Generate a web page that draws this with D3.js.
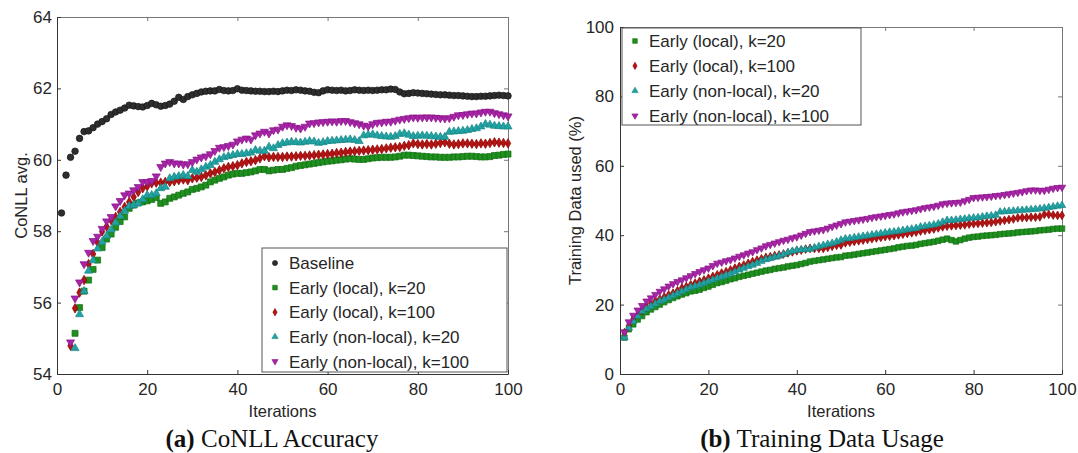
<!DOCTYPE html>
<html>
<head>
<meta charset="utf-8">
<script src="https://d3js.org/d3.v7.min.js"></script>
<style>
  body { margin: 0; background: #fff; }
  svg text { font-family: "Liberation Sans", Arial, sans-serif; fill: #262626; }
  svg .caption { font-family: "Liberation Serif", "Times New Roman", serif; fill: #111; }
</style>
</head>
<body>
<svg id="chart" width="1078" height="453"></svg>
<script>
// ---- data ----
const xTicks = [0, 20, 40, 60, 80, 100];
const accTicks = [54, 56, 58, 60, 62, 64];
const usageTicks = [0, 20, 40, 60, 80, 100];

const accNames = ["Baseline", "Early (local), k=20", "Early (local), k=100",
  "Early (non-local), k=20", "Early (non-local), k=100"];
const usageNames = ["Early (local), k=20", "Early (local), k=100",
  "Early (non-local), k=20", "Early (non-local), k=100"];

// CoNLL avg. per iteration (first value = first iteration plotted)
const accBaselineStart = 1;
const accBaseline = [
  58.51, 59.57, 60.07, 60.24, 60.60, 60.79, 60.81, 60.90, 61.00, 61.07,
  61.15, 61.27, 61.34, 61.39, 61.45, 61.53, 61.51, 61.49, 61.48, 61.52,
  61.58, 61.54, 61.50, 61.52, 61.56, 61.64, 61.75, 61.69, 61.77, 61.82,
  61.86, 61.90, 61.92, 61.93, 61.93, 61.97, 61.94, 61.93, 61.94, 61.99,
  61.95, 61.94, 61.93, 61.92, 61.92, 61.91, 61.91, 61.92, 61.91, 61.93,
  61.95, 61.94, 61.96, 61.95, 61.93, 61.92, 61.89, 61.88, 61.93, 61.96,
  61.95, 61.94, 61.95, 61.93, 61.94, 61.96, 61.95, 61.94, 61.95, 61.94,
  61.95, 61.96, 61.96, 61.98, 61.97, 61.90, 61.85, 61.86, 61.88, 61.87,
  61.86, 61.85, 61.84, 61.83, 61.82, 61.82, 61.81, 61.80, 61.80, 61.79,
  61.78, 61.77, 61.77, 61.78, 61.78, 61.79, 61.80, 61.81, 61.80, 61.79
];
const accLocal20Start = 4;
const accLocal20 = [
  55.14, 55.86, 56.32, 56.63, 56.93, 57.19, 57.54,
  57.78, 57.92, 58.11, 58.27, 58.40, 58.64, 58.73, 58.79, 58.82, 58.85,
  58.89, 58.94, 58.78, 58.82, 58.92, 58.96, 59.01, 59.06, 59.10, 59.17,
  59.20, 59.24, 59.29, 59.38, 59.43, 59.48, 59.52, 59.57, 59.60, 59.62,
  59.62, 59.64, 59.66, 59.69, 59.73, 59.73, 59.69, 59.71, 59.73, 59.73,
  59.76, 59.78, 59.82, 59.84, 59.86, 59.88, 59.90, 59.92, 59.94, 59.96,
  59.97, 59.99, 60.00, 60.02, 60.03, 60.02, 60.01, 60.01, 60.03, 60.05,
  60.06, 60.07, 60.07, 60.07, 60.08, 60.10, 60.13, 60.13, 60.12, 60.11,
  60.10, 60.09, 60.08, 60.08, 60.07, 60.07, 60.07, 60.08, 60.08, 60.09,
  60.10, 60.10, 60.09, 60.08, 60.08, 60.09, 60.12, 60.13, 60.15, 60.16
];
const accLocal100Start = 3;
const accLocal100 = [
  54.79, 55.84, 56.28, 56.63, 57.08, 57.36, 57.68, 57.99,
  58.13, 58.31, 58.40, 58.54, 58.68, 58.82, 58.96, 59.10, 59.20, 59.26,
  59.34, 59.36, 59.36, 59.38, 59.38, 59.40, 59.43, 59.45, 59.43, 59.48,
  59.50, 59.52, 59.57, 59.62, 59.66, 59.71, 59.76, 59.80, 59.82, 59.85,
  59.90, 59.94, 59.96, 59.99, 60.04, 60.10, 60.07, 60.08, 60.08, 60.08,
  60.09, 60.09, 60.10, 60.11, 60.11, 60.12, 60.13, 60.14, 60.15, 60.16,
  60.17, 60.19, 60.20, 60.22, 60.23, 60.24, 60.25, 60.26, 60.27, 60.28,
  60.29, 60.30, 60.32, 60.34, 60.35, 60.36, 60.39, 60.41, 60.46, 60.44,
  60.43, 60.44, 60.43, 60.45, 60.47, 60.49, 60.45, 60.43, 60.44, 60.46,
  60.46, 60.45, 60.44, 60.46, 60.45, 60.47, 60.49, 60.48, 60.47, 60.46
];
const accNonLocal20Start = 4;
const accNonLocal20 = [
  54.72, 55.67, 56.32, 56.89, 57.18, 57.51, 57.70,
  57.87, 58.04, 58.24, 58.42, 58.57, 58.70, 58.73, 58.78, 58.89, 59.01,
  59.01, 59.06, 59.20, 59.24, 59.48, 59.52, 59.54, 59.57, 59.54, 59.71,
  59.66, 59.73, 59.80, 59.85, 59.94, 60.01, 60.07, 60.10, 60.13, 60.16,
  60.16, 60.18, 60.20, 60.27, 60.25, 60.25, 60.36, 60.32, 60.41, 60.46,
  60.48, 60.50, 60.49, 60.48, 60.50, 60.52, 60.51, 60.47, 60.49, 60.52,
  60.53, 60.54, 60.55, 60.56, 60.57, 60.55, 60.52, 60.68, 60.70, 60.71,
  60.68, 60.66, 60.65, 60.64, 60.66, 60.72, 60.74, 60.70, 60.66, 60.67,
  60.68, 60.67, 60.66, 60.65, 60.64, 60.64, 60.78, 60.79, 60.80, 60.81,
  60.83, 60.86, 60.88, 60.93, 61.00, 60.98, 60.95, 60.94, 60.93, 60.93
];
const accNonLocal100Start = 3;
const accNonLocal100 = [
  54.89, 56.12, 56.57, 57.08, 57.40, 57.73, 57.85, 58.07,
  58.28, 58.40, 58.70, 58.85, 59.01, 59.06, 59.15, 59.24, 59.38, 59.38,
  59.41, 59.54, 59.80, 59.90, 59.94, 59.90, 59.90, 59.87, 59.88, 59.94,
  60.01, 60.07, 60.10, 60.16, 60.25, 60.34, 60.36, 60.39, 60.43, 60.52,
  60.57, 60.60, 60.57, 60.69, 60.74, 60.79, 60.74, 60.83, 60.85, 60.93,
  60.97, 60.95, 60.90, 60.88, 60.93, 61.02, 61.03, 61.05, 61.06, 61.07,
  61.08, 61.07, 61.09, 61.09, 61.06, 61.03, 61.00, 60.96, 60.94, 61.00,
  61.04, 61.05, 61.07, 61.07, 61.10, 61.13, 61.15, 61.17, 61.19, 61.18,
  61.19, 61.19, 61.19, 61.18, 61.17, 61.16, 61.17, 61.21, 61.25, 61.26,
  61.28, 61.30, 61.30, 61.33, 61.35, 61.35, 61.31, 61.28, 61.25, 61.22
];

// Training data used (%) per iteration, iterations 1..100
const usageStart = 1;
const useLocal20 = [
  10.5, 12.9, 14.3, 15.7, 16.7, 17.8, 18.6, 19.3, 20.0, 20.7,
  21.3, 21.9, 22.4, 22.9, 23.3, 23.8, 24.0, 24.3, 24.8, 25.2,
  25.7, 26.2, 26.5, 26.9, 27.3, 27.6, 28.0, 28.3, 28.6, 28.9,
  29.2, 29.5, 29.8, 30.0, 30.3, 30.5, 30.7, 31.0, 31.2, 31.4,
  31.7, 32.0, 32.4, 32.6, 32.8, 33.0, 33.2, 33.4, 33.6, 33.7,
  34.1, 34.2, 34.4, 34.6, 34.8, 35.0, 35.2, 35.4, 35.6, 35.8,
  36.0, 36.2, 36.5, 36.7, 36.9, 37.0, 37.2, 37.5, 37.7, 37.9,
  38.1, 38.4, 38.7, 39.0, 38.6, 38.2, 38.6, 39.0, 39.3, 39.5,
  39.6, 39.8, 39.9, 40.0, 40.1, 40.3, 40.4, 40.5, 40.6, 40.8,
  40.9, 41.0, 41.1, 41.2, 41.4, 41.5, 41.6, 41.8, 41.9, 41.9
];
const useLocal100 = [
  11.9, 14.0, 15.9, 17.1, 18.4, 19.3, 20.3, 21.0, 21.6, 22.2,
  22.8, 23.3, 24.0, 24.8, 25.2, 25.7, 26.2, 26.7, 27.1, 27.6,
  28.1, 28.6, 29.1, 29.5, 30.0, 30.5, 31.0, 31.4, 31.9, 32.4,
  32.8, 33.2, 33.6, 33.8, 34.1, 34.3, 34.6, 34.9, 35.2, 35.5,
  35.7, 36.0, 36.2, 36.2, 36.2, 36.2, 36.5, 36.8, 37.1, 37.2,
  37.8, 38.0, 38.2, 38.4, 38.6, 38.8, 39.0, 39.2, 39.4, 39.6,
  39.7, 39.9, 40.1, 40.3, 40.5, 40.7, 40.9, 41.2, 41.4, 41.6,
  41.8, 42.1, 42.4, 42.6, 42.7, 42.8, 42.9, 43.0, 43.2, 43.3,
  43.4, 43.5, 43.6, 43.7, 43.9, 44.1, 44.3, 44.5, 44.7, 45.0,
  45.1, 45.1, 45.2, 45.2, 45.3, 46.0, 46.0, 45.8, 45.7, 45.7
];
const useNonLocal20 = [
  10.5, 13.3, 15.2, 16.7, 18.1, 18.8, 19.5, 20.2, 21.0, 21.4,
  22.0, 22.6, 23.2, 23.8, 24.4, 25.0, 25.3, 25.7, 26.2, 26.7,
  27.1, 27.6, 28.0, 28.5, 28.9, 29.4, 30.0, 30.5, 31.0, 31.4,
  31.9, 32.5, 33.0, 33.3, 33.7, 34.0, 34.5, 35.0, 35.4, 35.7,
  35.8, 35.9, 36.0, 36.4, 36.8, 37.1, 37.4, 37.7, 38.1, 38.6,
  39.0, 39.1, 39.3, 39.5, 39.7, 39.9, 40.1, 40.3, 40.5, 40.7,
  40.9, 41.0, 41.2, 41.4, 41.6, 41.8, 42.0, 42.4, 42.6, 42.8,
  43.0, 43.3, 43.8, 44.3, 44.3, 44.4, 44.6, 44.7, 44.9, 45.0,
  45.1, 45.3, 45.5, 45.6, 45.8, 46.7, 46.8, 46.9, 47.0, 47.1,
  47.2, 47.3, 47.4, 47.5, 47.6, 47.8, 48.0, 48.2, 48.4, 48.6
];
const useNonLocal100 = [
  12.1, 15.0, 16.9, 18.4, 19.7, 21.0, 21.9, 22.9, 23.8, 24.5,
  25.3, 26.0, 26.6, 27.1, 27.7, 28.3, 28.9, 29.5, 30.0, 30.5,
  31.2, 31.9, 32.2, 32.6, 32.9, 33.4, 33.9, 34.3, 34.8, 35.2,
  35.8, 36.3, 36.9, 37.3, 37.7, 38.1, 38.5, 38.8, 39.2, 39.5,
  40.0, 40.5, 41.0, 41.2, 41.4, 41.6, 42.0, 42.5, 42.9, 43.3,
  43.8, 44.0, 44.2, 44.4, 44.6, 44.8, 45.1, 45.3, 45.5, 45.7,
  45.9, 46.1, 46.4, 46.7, 46.9, 47.1, 47.3, 47.6, 47.9, 48.1,
  48.3, 48.6, 49.0, 49.2, 49.3, 49.4, 49.5, 49.9, 50.3, 50.8,
  50.9, 51.0, 51.1, 51.2, 51.4, 51.5, 51.7, 51.9, 52.1, 52.3,
  52.5, 52.8, 53.0, 53.0, 52.9, 52.9, 53.2, 53.5, 53.7, 53.8
];

// ---- marker styles ----
const styles = {
  baseline:   { shape: d3.symbolCircle,   size: 34, rot: 0,   fill: "#2e2e2e", stroke: "#151515" },
  local20:    { shape: d3.symbolSquare,   size: 36, rot: 0,   fill: "#1f8f1f", stroke: "#117011" },
  local100:   { shape: d3.symbolDiamond,  size: 26, rot: 0,   fill: "#b31414", stroke: "#8a0000" },
  nonlocal20: { shape: d3.symbolTriangle, size: 28, rot: 0,   fill: "#22a3a3", stroke: "#178585" },
  nonlocal100:{ shape: d3.symbolTriangle, size: 28, rot: 180, fill: "#a626a6", stroke: "#881088" }
};

const svg = d3.select("#chart");
const tickFont = 17;
const labelFont = 16.5;
const legendFont = 17;

function drawPanel(p) {
  const x = d3.scaleLinear().domain([0, 100]).range([p.left, p.right]);
  const y = d3.scaleLinear().domain(p.yDomain).range([p.bottom, p.top]);
  const g = svg.append("g");

  const styleAxis = (sel, color) => {
    sel.attr("font-size", null).attr("font-family", null);
    sel.select(".domain").attr("stroke", color);
    sel.selectAll(".tick line").attr("stroke", color);
    sel.selectAll(".tick text").style("font-size", tickFont + "px");
  };

  // box with inward ticks on all four sides
  g.append("g").attr("transform", `translate(0,${p.top})`)
    .call(d3.axisTop(x).tickValues(xTicks).tickSize(-4).tickSizeOuter(0).tickFormat(""))
    .call(s => styleAxis(s, "#777"));
  g.append("g").attr("transform", `translate(${p.right},0)`)
    .call(d3.axisRight(y).tickValues(p.yTicks).tickSize(-4).tickSizeOuter(0).tickFormat(""))
    .call(s => styleAxis(s, "#777"));
  g.append("g").attr("transform", `translate(0,${p.bottom})`)
    .call(d3.axisBottom(x).tickValues(xTicks).tickSize(-4).tickSizeOuter(0).tickPadding(9))
    .call(s => styleAxis(s, "#333"));
  g.append("g").attr("transform", `translate(${p.left},0)`)
    .call(d3.axisLeft(y).tickValues(p.yTicks).tickSize(-4).tickSizeOuter(0).tickPadding(p.yPad))
    .call(s => styleAxis(s, "#333"));

  // markers
  p.series.forEach(s => {
    const st = styles[s.style];
    g.append("g").selectAll("path")
      .data(s.values)
      .join("path")
      .attr("transform", (v, i) => `translate(${x(s.start + i)},${y(v)}) rotate(${st.rot})`)
      .attr("d", d3.symbol(st.shape, st.size * p.markerScale))
      .attr("fill", st.fill)
      .attr("stroke", st.stroke)
      .attr("stroke-width", 0.7);
  });

  // axis titles
  g.append("text")
    .attr("x", (p.left + p.right) / 2).attr("y", 417)
    .attr("text-anchor", "middle").style("font-size", labelFont + "px")
    .text("Iterations");
  g.append("text")
    .attr("transform", `translate(${p.yLabelX},${(p.top + p.bottom) / 2}) rotate(-90)`)
    .attr("text-anchor", "middle").style("font-size", labelFont + "px")
    .text(p.yLabel);

  // legend
  const lg = g.append("g");
  lg.append("rect")
    .attr("x", p.legend.x).attr("y", p.legend.y)
    .attr("width", p.legend.w).attr("height", p.legend.h)
    .attr("fill", "#fff").attr("stroke", "#555").attr("stroke-width", 1);
  p.series.forEach((s, i) => {
    const st = styles[s.style];
    const cy = p.legend.y + p.legend.first + i * p.legend.step;
    lg.append("path")
      .attr("transform", `translate(${p.legend.x + 13},${cy}) rotate(${st.rot})`)
      .attr("d", d3.symbol(st.shape, st.size * 0.6))
      .attr("fill", st.fill).attr("stroke", st.stroke).attr("stroke-width", 0.6);
    lg.append("text")
      .attr("x", p.legend.x + 27).attr("y", cy)
      .attr("dy", "0.36em").style("font-size", legendFont + "px")
      .text(s.name);
  });

  // caption
  const cap = g.append("text").attr("class", "caption")
    .attr("x", p.captionX).attr("y", 447)
    .attr("text-anchor", "middle").style("font-size", "25px");
  cap.append("tspan").attr("font-weight", "bold").text(p.captionTag);
  cap.append("tspan").text(" " + p.caption);
}

drawPanel({
  left: 57, right: 508, top: 17, bottom: 374,
  yDomain: [54, 64], yTicks: accTicks, yPad: 5,
  yLabel: "CoNLL avg.", yLabelX: 27,
  markerScale: 1,
  series: [
    { name: accNames[0], style: "baseline", start: accBaselineStart, values: accBaseline },
    { name: accNames[1], style: "local20", start: accLocal20Start, values: accLocal20 },
    { name: accNames[2], style: "local100", start: accLocal100Start, values: accLocal100 },
    { name: accNames[3], style: "nonlocal20", start: accNonLocal20Start, values: accNonLocal20 },
    { name: accNames[4], style: "nonlocal100", start: accNonLocal100Start, values: accNonLocal100 }
  ],
  legend: { x: 262, y: 248, w: 245, h: 124, first: 15, step: 24.6 },
  captionX: 272, captionTag: "(a)", caption: "CoNLL Accuracy"
});

drawPanel({
  left: 620, right: 1062, top: 27, bottom: 374,
  yDomain: [0, 100], yTicks: usageTicks, yPad: 6,
  yLabel: "Training Data used (%)", yLabelX: 581,
  markerScale: 0.85,
  series: [
    { name: usageNames[0], style: "local20", start: usageStart, values: useLocal20 },
    { name: usageNames[1], style: "local100", start: usageStart, values: useLocal100 },
    { name: usageNames[2], style: "nonlocal20", start: usageStart, values: useNonLocal20 },
    { name: usageNames[3], style: "nonlocal100", start: usageStart, values: useNonLocal100 }
  ],
  legend: { x: 622, y: 28, w: 239, h: 97, first: 13, step: 24.9 },
  captionX: 822, captionTag: "(b)", caption: "Training Data Usage"
});
</script>
</body>
</html>
